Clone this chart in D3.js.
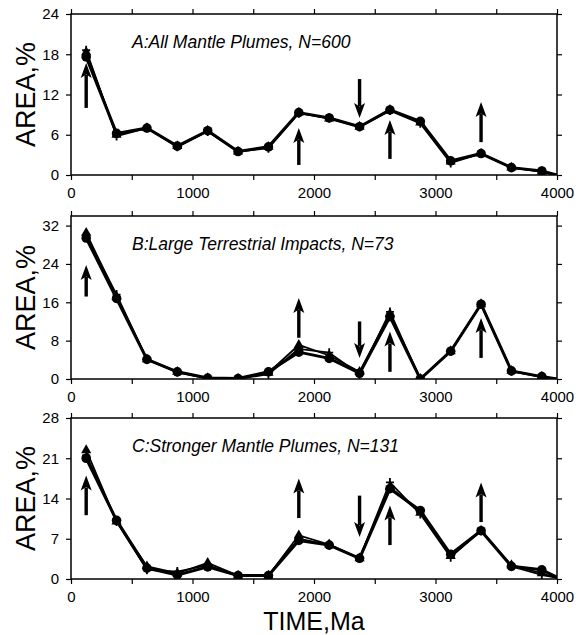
<!DOCTYPE html>
<html>
<head>
<meta charset="utf-8">
<script src="https://cdn.jsdelivr.net/npm/d3@7"></script>
<style>
  body { margin: 0; background: #fff; }
  svg { display: block; font-family: "Liberation Sans", Arial, sans-serif; }
  .axis path { display: none; }
  .axis line { stroke: #000; stroke-width: 1.2; }
  .axis text { font-size: 15px; fill: #000; }
</style>
</head>
<body>
<svg width="588" height="635"></svg>
<script>
// bin centres, Ma
const TIME = [125, 375, 625, 875, 1125, 1375, 1625, 1875, 2125, 2375, 2625, 2875, 3125, 3375, 3625, 3875, 4000];

// A: all mantle plumes
const A_CIRCLE   = [17.6, 6.2, 7.0, 4.3, 6.6, 3.5, 4.2, 9.3, 8.5, 7.2, 9.7, 8.0, 2.1, 3.2, 1.1, 0.6, 0.0];
const A_TRIANGLE = [18.3, 6.0, 7.0, 4.3, 6.6, 3.5, 4.2, 9.3, 8.4, 7.2, 9.7, 7.8, 2.0, 3.2, 1.1, 0.5, 0.0];
const A_PLUS     = [18.6, 5.8, 7.0, 4.2, 6.5, 3.5, 4.0, 9.2, 8.5, 7.2, 9.6, 7.7, 1.8, 3.2, 1.1, 0.5, 0.0];

// B: large terrestrial impacts
const B_CIRCLE   = [29.4, 16.8, 4.1, 1.5, 0.2, 0.1, 1.5, 5.6, 4.3, 1.2, 13.0, 0.0, 5.8, 15.6, 1.7, 0.5, 0.0];
const B_TRIANGLE = [30.5, 17.2, 4.1, 1.5, 0.2, 0.1, 1.3, 7.1, 4.9, 1.5, 13.6, 0.0, 5.8, 15.6, 1.7, 0.5, 0.0];
const B_PLUS     = [30.0, 17.6, 4.1, 1.4, 0.1, 0.0, 1.0, 6.3, 5.5, 1.0, 14.0, 0.0, 5.8, 15.6, 1.6, 0.4, 0.0];

// C: stronger mantle plumes
const C_CIRCLE   = [21.0, 10.2, 1.9, 0.7, 2.1, 0.6, 0.6, 6.7, 5.9, 3.6, 15.7, 11.9, 4.3, 8.4, 2.2, 1.6, 0.3];
const C_TRIANGLE = [22.4, 10.0, 2.2, 1.0, 2.8, 0.6, 0.6, 7.6, 6.0, 3.6, 16.0, 11.5, 4.0, 8.4, 2.4, 1.0, 0.2];
const C_PLUS     = [21.5, 10.0, 1.6, 1.3, 2.4, 0.5, 0.6, 7.0, 5.9, 3.6, 16.8, 11.3, 3.8, 8.4, 2.2, 0.7, 0.2];

// arrows: [time, tail value, tip value]
const A_ARROWS = [[125, 10.0, 16.7], [1875, 1.5, 7.0], [2375, 14.3, 8.5], [2625, 2.4, 8.2], [3375, 4.9, 10.9]];
const B_ARROWS = [[125, 17.2, 23.8], [1875, 8.6, 16.9], [2375, 12.0, 4.4], [2625, 1.5, 9.9], [3375, 4.4, 12.7]];
const C_ARROWS = [[125, 11.1, 18.0], [1875, 10.6, 17.5], [2375, 14.5, 7.3], [2625, 5.9, 12.8], [3375, 9.9, 16.8]];

const A_TICKS = [0, 6, 12, 18, 24];
const B_TICKS = [0, 8, 16, 24, 32];
const C_TICKS = [0, 7, 14, 21, 28];

const panels = [
  { title: "A:All Mantle Plumes, N=600", top: 14, bottom: 175, max: 24, ticks: A_TICKS,
    circle: A_CIRCLE, triangle: A_TRIANGLE, plus: A_PLUS, arrows: A_ARROWS },
  { title: "B:Large Terrestrial Impacts, N=73", top: 216, bottom: 379, max: 34, ticks: B_TICKS,
    circle: B_CIRCLE, triangle: B_TRIANGLE, plus: B_PLUS, arrows: B_ARROWS },
  { title: "C:Stronger Mantle Plumes, N=131", top: 418, bottom: 579, max: 28, ticks: C_TICKS,
    circle: C_CIRCLE, triangle: C_TRIANGLE, plus: C_PLUS, arrows: C_ARROWS }
];

const svg = d3.select("svg");
const left = 71, right = 557;

const x = d3.scaleLinear().domain([0, 4000]).range([left, right]);

panels.forEach((p, i) => {
  const y = d3.scaleLinear().domain([0, p.max]).range([p.bottom, p.top]);
  const g = svg.append("g");

  // clip so the last segment stops at the frame
  const clipId = "clip" + i;
  svg.append("clipPath").attr("id", clipId)
     .append("rect")
     .attr("x", left).attr("y", p.top - 10)
     .attr("width", right - left).attr("height", p.bottom - p.top + 10);

  // axes, ticks pointing outwards
  g.append("g").attr("class", "axis")
   .attr("transform", `translate(0,${p.bottom})`)
   .call(d3.axisBottom(x).tickValues(d3.range(0, 4001, 500))
         .tickFormat(d => d % 1000 === 0 ? d : "").tickSize(5).tickPadding(7));
  g.append("g").attr("class", "axis")
   .attr("transform", `translate(0,${p.top})`)
   .call(d3.axisTop(x).tickValues(d3.range(0, 4001, 500)).tickFormat("").tickSize(5));
  g.append("g").attr("class", "axis")
   .attr("transform", `translate(${left},0)`)
   .call(d3.axisLeft(y).tickValues(p.ticks).tickSize(5).tickPadding(7));
  g.append("g").attr("class", "axis")
   .attr("transform", `translate(${right},0)`)
   .call(d3.axisRight(y).tickValues(p.ticks).tickFormat("").tickSize(5));

  g.append("rect")
   .attr("x", left).attr("y", p.top)
   .attr("width", right - left).attr("height", p.bottom - p.top)
   .attr("fill", "none").attr("stroke", "#000").attr("stroke-width", 1.5);

  // y label
  g.append("text")
   .attr("transform", `translate(35,${(p.top + p.bottom) / 2}) rotate(-90)`)
   .attr("text-anchor", "middle")
   .style("font-size", "27px")
   .text("AREA,%");

  // panel title
  g.append("text")
   .attr("x", 132).attr("y", p.top + 34)
   .style("font-size", "17.5px").style("font-style", "italic")
   .text(p.title);

  const plot = g.append("g").attr("clip-path", `url(#${clipId})`);
  const line = d3.line().x((d, j) => x(TIME[j])).y(d => y(d));

  plot.append("path").datum(p.triangle).attr("d", line)
      .attr("fill", "none").attr("stroke", "#000").attr("stroke-width", 1.8)
      .attr("stroke-linejoin", "round");
  plot.append("path").datum(p.plus).attr("d", line)
      .attr("fill", "none").attr("stroke", "#000").attr("stroke-width", 1.8)
      .attr("stroke-linejoin", "round");
  plot.append("path").datum(p.circle).attr("d", line)
      .attr("fill", "none").attr("stroke", "#000").attr("stroke-width", 3)
      .attr("stroke-linejoin", "round");

  const pts = TIME.slice(0, 16);

  plot.selectAll(".tri").data(pts).enter().append("path")
      .attr("d", d3.symbol().type(d3.symbolTriangle).size(45))
      .attr("transform", (d, j) => `translate(${x(d)},${y(p.triangle[j])})`)
      .attr("fill", "#000");
  plot.selectAll(".plus").data(pts).enter().append("path")
      .attr("d", "M-4,0H4M0,-4.5V4.5")
      .attr("transform", (d, j) => `translate(${x(d)},${y(p.plus[j])})`)
      .attr("stroke", "#000").attr("stroke-width", 1.8);
  plot.selectAll(".dot").data(pts).enter().append("circle")
      .attr("cx", d => x(d))
      .attr("cy", (d, j) => y(p.circle[j]))
      .attr("r", 4.8)
      .attr("fill", "#000");

  // arrows
  p.arrows.forEach(a => {
    const ax = x(a[0]), y0 = y(a[1]), y1 = y(a[2]);
    const dir = y1 < y0 ? 1 : -1;   // 1 = pointing up
    const head = 15;
    g.append("line")
     .attr("x1", ax).attr("x2", ax)
     .attr("y1", y0).attr("y2", y1 + dir * head * 0.8)
     .attr("stroke", "#000").attr("stroke-width", 3.4);
    g.append("path")
     .attr("d", `M${ax},${y1} L${ax - 5.5},${y1 + dir * head} L${ax},${y1 + dir * (head - 3.5)} L${ax + 5.5},${y1 + dir * head} Z`)
     .attr("fill", "#000");
  });
});

// x label
svg.append("text")
   .attr("x", (left + right) / 2).attr("y", 629.5)
   .attr("text-anchor", "middle")
   .style("font-size", "25px")
   .text("TIME,Ma");
</script>
</body>
</html>
